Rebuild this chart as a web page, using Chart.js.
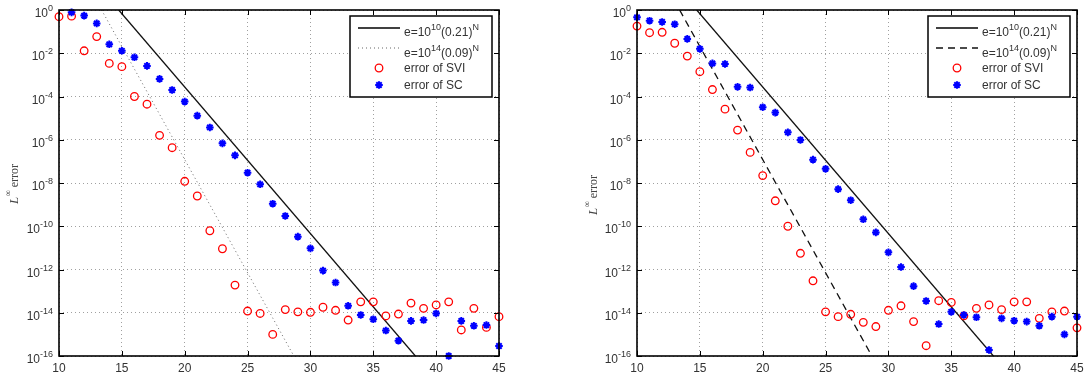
<!DOCTYPE html>
<html>
<head>
<meta charset="utf-8">
<script src="https://cdn.jsdelivr.net/npm/chart.js@4/dist/chart.umd.min.js"></script>
<style>
  html, body { margin: 0; padding: 0; background: #fff; }
  #wrap { position: relative; width: 1090px; height: 372px; }
  canvas { position: absolute; top: 0; }
</style>
</head>
<body>
<div id="wrap">
  <canvas id="leftChart" width="545" height="372" style="left:0"></canvas>
  <canvas id="rightChart" width="545" height="372" style="left:545px"></canvas>
</div>
<script>
// polynomial degree N
var nValues = [10, 11, 12, 13, 14, 15, 16, 17, 18, 19, 20, 21, 22, 23, 24, 25, 26, 27,
               28, 29, 30, 31, 32, 33, 34, 35, 36, 37, 38, 39, 40, 41, 42, 43, 44, 45];

// left panel
var leftSVI = [4.9e-1, 5.2e-1, 1.3e-2, 5.9e-2, 3.4e-3, 2.4e-3, 1.0e-4, 4.4e-5, 1.6e-6, 4.3e-7,
               1.2e-8, 2.5e-9, 6.2e-11, 9.1e-12, 1.9e-13, 1.2e-14, 9.3e-15, 1.0e-15, 1.4e-14, 1.1e-14,
               1.05e-14, 1.8e-14, 1.3e-14, 4.6e-15, 3.2e-14, 3.2e-14, 7.1e-15, 8.7e-15, 2.8e-14, 1.6e-14,
               2.3e-14, 3.2e-14, 1.6e-15, 1.6e-14, 2.1e-15, 6.6e-15];
var leftSC = [null, 7.8e-1, 5.5e-1, 2.4e-1, 2.6e-2, 1.3e-2, 6.5e-3, 2.6e-3, 6.5e-4, 2.0e-4,
              5.8e-5, 1.3e-5, 3.7e-6, 6.8e-7, 1.9e-7, 3.0e-8, 8.7e-9, 1.1e-9, 3.0e-10, 3.3e-11,
              9.5e-12, 8.9e-13, 2.5e-13, 2.1e-14, 7.9e-15, 5.0e-15, 1.5e-15, 5.1e-16, 4.2e-15, 4.6e-15,
              9.3e-15, 1.0e-16, 4.2e-15, 2.5e-15, 2.7e-15, 2.9e-16];

// right panel
var rightSVI = [1.8e-1, 8.9e-2, 9.3e-2, 2.9e-2, 7.4e-3, 1.4e-3, 2.1e-4, 2.6e-5, 2.8e-6, 2.6e-7,
                2.2e-8, 1.5e-9, 1.0e-10, 5.6e-12, 3.0e-13, 1.1e-14, 6.6e-15, 8.5e-15, 3.6e-15, 2.3e-15,
                1.3e-14, 2.1e-14, 3.9e-15, 3.0e-16, 3.6e-14, 3.0e-14, 7.2e-15, 1.6e-14, 2.3e-14, 1.4e-14,
                3.2e-14, 3.2e-14, 5.5e-15, 1.1e-14, 1.2e-14, 2.0e-15];
var rightSC = [4.6e-1, 3.2e-1, 2.8e-1, 2.2e-1, 4.6e-2, 1.6e-2, 3.4e-3, 3.2e-3, 2.8e-4, 2.6e-4,
               3.2e-5, 1.8e-5, 2.2e-6, 9.8e-7, 1.2e-7, 4.5e-8, 5.2e-9, 1.6e-9, 2.1e-10, 5.2e-11,
               6.2e-12, 1.3e-12, 1.7e-13, 3.5e-14, 3.0e-15, 1.1e-14, 7.9e-15, 6.2e-15, 1.9e-16, 5.5e-15,
               4.3e-15, 3.9e-15, 2.5e-15, 6.6e-15, 1.0e-15, 6.6e-15];

// reference rates, end points where they cross the frame
var refSolidN = [14.75, 38.35];
var refSolidE = [1, 1e-16];
var refSteepN = [13.39, 28.68];
var refSteepE = [1, 1e-16];

var xTicks = [10, 15, 20, 25, 30, 35, 40, 45];
var yTickExps = [0, -2, -4, -6, -8, -10, -12, -14, -16];
var legendLabels = ['e=10^{10}(0.21)^{N}', 'e=10^{14}(0.09)^{N}', 'error of SVI', 'error of SC'];

var SANS = "'Liberation Sans', Arial, sans-serif";
var SERIF = "'Liberation Serif', 'Times New Roman', serif";

function pts(xs, ys) {
    var out = [];
    for (var i = 0; i < xs.length; i++) {
        if (ys[i] !== null) out.push({ x: xs[i], y: ys[i] });
    }
    return out;
}

// text with ^{...} superscripts
function drawSup(ctx, str, x, y, size, align) {
    var parts = [];
    var re = /\^\{([^}]*)\}/g, last = 0, m;
    while ((m = re.exec(str)) !== null) {
        if (m.index > last) parts.push([str.slice(last, m.index), false]);
        parts.push([m[1], true]);
        last = re.lastIndex;
    }
    if (last < str.length) parts.push([str.slice(last), false]);
    var supSize = Math.round(size * 0.72);
    var total = 0;
    parts.forEach(function (p) {
        ctx.font = (p[1] ? supSize : size) + 'px ' + SANS;
        p.push(ctx.measureText(p[0]).width);
        total += p[2];
    });
    var cx = align === 'right' ? x - total : (align === 'center' ? x - total / 2 : x);
    ctx.textAlign = 'left';
    ctx.textBaseline = 'alphabetic';
    parts.forEach(function (p) {
        ctx.font = (p[1] ? supSize : size) + 'px ' + SANS;
        ctx.fillText(p[0], cx, p[1] ? y - size * 0.5 : y);
        cx += p[2];
    });
}

function drawStar(ctx, x, y, r) {
    ctx.beginPath();
    for (var k = 0; k < 4; k++) {
        var a = k * Math.PI / 4;
        ctx.moveTo(x - r * Math.cos(a), y - r * Math.sin(a));
        ctx.lineTo(x + r * Math.cos(a), y + r * Math.sin(a));
    }
    ctx.stroke();
}

var framePlugin = {
    id: 'matlabFrame',
    afterDraw: function (chart, args, opts) {
        var ctx = chart.ctx, a = chart.chartArea;
        var xs = chart.scales.x, ys = chart.scales.y;
        ctx.save();

        // frame + inward ticks
        ctx.strokeStyle = '#000';
        ctx.lineWidth = 1.6;
        ctx.strokeRect(a.left, a.top, a.right - a.left, a.bottom - a.top);
        ctx.lineWidth = 1;
        ctx.beginPath();
        xTicks.forEach(function (v) {
            var px = Math.round(xs.getPixelForValue(v)) + 0.5;
            ctx.moveTo(px, a.bottom); ctx.lineTo(px, a.bottom - 5);
            ctx.moveTo(px, a.top); ctx.lineTo(px, a.top + 5);
        });
        yTickExps.forEach(function (e) {
            var py = Math.round(ys.getPixelForValue(Math.pow(10, e))) + 0.5;
            ctx.moveTo(a.left, py); ctx.lineTo(a.left + 5, py);
            ctx.moveTo(a.right, py); ctx.lineTo(a.right - 5, py);
        });
        ctx.stroke();

        // tick labels
        ctx.fillStyle = '#333';
        yTickExps.forEach(function (e) {
            var py = ys.getPixelForValue(Math.pow(10, e));
            drawSup(ctx, '10^{' + e + '}', a.left - 6, py + 7, 12, 'right');
        });
        ctx.font = '12px ' + SANS;
        ctx.textAlign = 'center';
        ctx.textBaseline = 'top';
        xTicks.forEach(function (v) {
            ctx.fillText(String(v), xs.getPixelForValue(v), a.bottom + 7);
        });

        // y title
        ctx.save();
        ctx.translate(opts.titleX, opts.titleY);
        ctx.rotate(-Math.PI / 2);
        ctx.fillStyle = '#444';
        ctx.font = 'italic 13px ' + SERIF;
        var wL = ctx.measureText('L').width;
        ctx.font = '9px ' + SERIF;
        var wInf = ctx.measureText('\u221E').width;
        ctx.font = '12px ' + SERIF;
        var wErr = ctx.measureText(' error').width;
        var sx = -(wL + wInf + wErr) / 2;
        ctx.textAlign = 'left';
        ctx.textBaseline = 'alphabetic';
        ctx.font = 'italic 13px ' + SERIF;
        ctx.fillText('L', sx, 4);
        ctx.font = '9px ' + SERIF;
        ctx.fillText('\u221E', sx + wL + 0.5, -3);
        ctx.font = '12px ' + SERIF;
        ctx.fillText(' error', sx + wL + wInf, 4);
        ctx.restore();

        // legend
        var bx = a.left + 291, by = 16, bw = 142, bh = 81;
        ctx.fillStyle = '#fff';
        ctx.fillRect(bx, by, bw, bh);
        ctx.strokeStyle = '#000';
        ctx.lineWidth = 1.5;
        ctx.strokeRect(bx, by, bw, bh);
        var rows = [28, 48, 68, 85];
        var lx0 = a.left + 299, lx1 = a.left + 341, tx = a.left + 345, mx = a.left + 320;

        ctx.lineWidth = 1.3;
        ctx.strokeStyle = '#000';
        ctx.setLineDash([]);
        ctx.beginPath(); ctx.moveTo(lx0, rows[0]); ctx.lineTo(lx1, rows[0]); ctx.stroke();

        ctx.strokeStyle = opts.steep.color;
        ctx.lineWidth = opts.steep.width;
        ctx.setLineDash(opts.steep.dash);
        ctx.beginPath(); ctx.moveTo(lx0, rows[1]); ctx.lineTo(lx1, rows[1]); ctx.stroke();
        ctx.setLineDash([]);

        ctx.strokeStyle = '#ff0000';
        ctx.lineWidth = 1.3;
        ctx.beginPath(); ctx.arc(mx, rows[2], 3.8, 0, Math.PI * 2); ctx.stroke();

        ctx.strokeStyle = '#0000ff';
        ctx.lineWidth = 2;
        drawStar(ctx, mx, rows[3], 3.8);

        ctx.fillStyle = '#333';
        drawSup(ctx, legendLabels[0], tx, rows[0] + 8, 12, 'left');
        drawSup(ctx, legendLabels[1], tx, rows[1] + 9, 12, 'left');
        drawSup(ctx, legendLabels[2], tx, rows[2] + 4, 12, 'left');
        drawSup(ctx, legendLabels[3], tx, rows[3] + 4, 12, 'left');

        ctx.restore();
    }
};

function makeChart(id, svi, sc, cfg) {
    var gridOpts = { color: '#a0a0a0', lineWidth: 1, drawTicks: false };
    return new Chart(document.getElementById(id), {
        type: 'scatter',
        data: {
            datasets: [
                {
                    label: 'error of SC',
                    data: pts(nValues, sc),
                    pointStyle: 'star',
                    pointRadius: 3.8,
                    borderColor: '#0000ff',
                    backgroundColor: '#0000ff',
                    borderWidth: 2,
                    clip: false
                },
                {
                    label: 'error of SVI',
                    data: pts(nValues, svi),
                    pointStyle: 'circle',
                    pointRadius: 3.8,
                    borderColor: '#ff0000',
                    backgroundColor: 'rgba(0,0,0,0)',
                    borderWidth: 1.3,
                    clip: false
                },
                {
                    label: 'e=10^10(0.21)^N',
                    data: pts(refSolidN, refSolidE),
                    showLine: true,
                    borderColor: '#111',
                    borderWidth: 1.3,
                    pointRadius: 0
                },
                {
                    label: 'e=10^14(0.09)^N',
                    data: pts(refSteepN, refSteepE),
                    showLine: true,
                    borderColor: cfg.steep.color,
                    borderWidth: cfg.steep.width,
                    borderDash: cfg.steep.dash,
                    pointRadius: 0
                }
            ]
        },
        options: {
            responsive: false,
            animation: false,
            devicePixelRatio: 1,
            layout: { padding: { left: 0, right: cfg.rightPad, top: 10, bottom: 0 } },
            plugins: {
                legend: { display: false },
                tooltip: { enabled: false },
                matlabFrame: { titleX: cfg.titleX, titleY: cfg.titleY, steep: cfg.steep }
            },
            scales: {
                x: {
                    type: 'linear',
                    min: 10,
                    max: 45,
                    afterBuildTicks: function (s) { s.ticks = xTicks.map(function (v) { return { value: v }; }); },
                    afterFit: function (s) { s.height = 16; },
                    ticks: { display: false },
                    grid: gridOpts,
                    border: { display: false, dash: [1, 3] }
                },
                y: {
                    type: 'logarithmic',
                    min: 1e-16,
                    max: 1,
                    afterBuildTicks: function (s) { s.ticks = yTickExps.map(function (e) { return { value: Math.pow(10, e) }; }); },
                    afterFit: function (s) { s.width = cfg.leftW; },
                    ticks: { display: false },
                    grid: gridOpts,
                    border: { display: false, dash: [1, 3] }
                }
            }
        },
        plugins: [framePlugin]
    });
}

makeChart('leftChart', leftSVI, leftSC, {
    leftW: 59, rightPad: 46, titleX: 14, titleY: 184,
    steep: { color: '#666', width: 1, dash: [1, 3] }
});
makeChart('rightChart', rightSVI, rightSC, {
    leftW: 92, rightPad: 13, titleX: 48, titleY: 195,
    steep: { color: '#111', width: 1.3, dash: [7, 5] }
});
</script>
</body>
</html>
